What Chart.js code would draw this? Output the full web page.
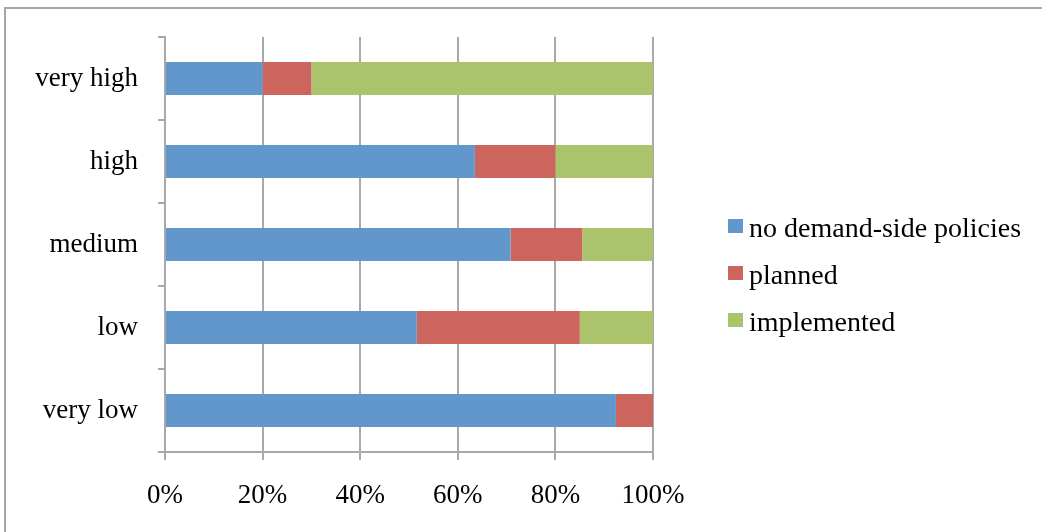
<!DOCTYPE html>
<html>
<head>
<meta charset="utf-8">
<script src="https://cdn.jsdelivr.net/npm/chart.js@4.4.1/dist/chart.umd.min.js"></script>
<style>
  body { margin: 0; background: #fff; }
</style>
</head>
<body>
<canvas id="myChart" width="1042" height="532"></canvas>
<script>

const ctx = document.getElementById('myChart');

// categories, top to bottom
const levels = ['very high', 'high', 'medium', 'low', 'very low'];

// shares in percent
const no_policies = [20, 63.5, 70.8, 51.6, 92.4];
const planned = [10, 16.5, 14.7, 33.4, 7.6];
const implemented = [70, 20, 14.5, 15, 0];

const x_ticks = [0, 20, 40, 60, 80, 100];

const FONT = "'Liberation Serif', 'Times New Roman', serif";
const GRID = '#a9a9a9';

const policies_dataset = {
    label: 'no demand-side policies',
    data: no_policies,
    backgroundColor: '#6297cb'
}
const planned_dataset = {
    label: 'planned',
    data: planned,
    backgroundColor: '#cd655f'
}
const implemented_dataset = {
    label: 'implemented',
    data: implemented,
    backgroundColor: '#abc46b'
}

// outer frame: only top and left edges are visible
const framePlugin = {
    id: 'frame',
    beforeDraw(chart) {
        const c = chart.ctx;
        c.save();
        c.strokeStyle = '#a6a6a6';
        c.lineWidth = 2;
        c.beginPath();
        c.moveTo(chart.width, 8);
        c.lineTo(5, 8);
        c.lineTo(5, chart.height);
        c.stroke();
        c.restore();
    }
}

// legend drawn by hand so the box/text gap matches the original
const legendPlugin = {
    id: 'sideLegend',
    afterDraw(chart) {
        const c = chart.ctx;
        c.save();
        c.font = '28px ' + FONT;
        c.textBaseline = 'alphabetic';
        chart.data.datasets.forEach((ds, i) => {
            const top = 219 + i * 47;
            c.fillStyle = ds.backgroundColor;
            c.fillRect(728, top, 15, 14);
            c.fillStyle = '#000';
            c.fillText(ds.label, 749, top + 18);
        });
        c.restore();
    }
}

const myChart = new Chart(ctx, {
    type: 'bar',
    data: {
        labels: levels,
        datasets: [policies_dataset, planned_dataset, implemented_dataset]
    },
    plugins: [framePlugin, legendPlugin],
    options: {
        responsive: false,
        animation: false,
        indexAxis: 'y',
        barPercentage: 0.4,
        categoryPercentage: 1,
        layout: {
            padding: { top: 37, right: 389, left: 0, bottom: 0 }
        },
        plugins: {
            legend: { display: false },
            tooltip: { enabled: false }
        },
        scales: {
            x: {
                stacked: true,
                min: 0,
                max: 100,
                afterBuildTicks(scale) {
                    scale.ticks = x_ticks.map(v => ({ value: v }));
                },
                afterFit(scale) { scale.height = 80; },
                ticks: {
                    color: '#000',
                    padding: 20,
                    font: { family: FONT, size: 27 },
                    callback: v => v + '%'
                },
                grid: {
                    color: GRID,
                    lineWidth: 2,
                    tickLength: 8,
                    drawOnChartArea: true
                },
                border: { color: GRID, width: 2 }
            },
            y: {
                stacked: true,
                afterFit(scale) { scale.width = 165; },
                ticks: {
                    color: '#000',
                    padding: 20,
                    font: { family: FONT, size: 27 }
                },
                grid: {
                    color: GRID,
                    lineWidth: 2,
                    tickLength: 7,
                    offset: true,
                    drawOnChartArea: false
                },
                border: { color: GRID, width: 2 }
            }
        }
    }
});

</script>
</body>
</html>
